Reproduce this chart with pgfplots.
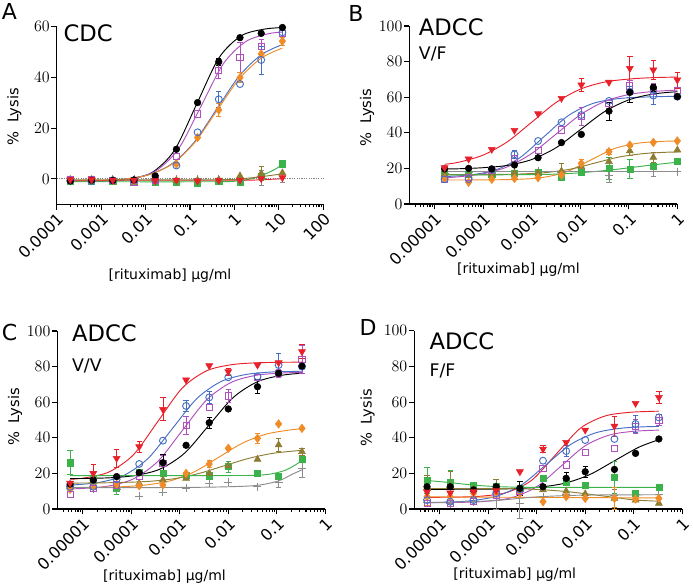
\documentclass[border=0pt]{standalone}
\usepackage{pgfplots}
\usepackage{pgfplotstable}
\pgfplotsset{compat=1.18}
\usepackage{fontspec}
\setmainfont{DejaVu Sans}
\definecolor{cblue}{RGB}{70,110,195}
\definecolor{cmag}{RGB}{175,80,190}
\definecolor{cred}{RGB}{232,32,42}
\definecolor{corange}{RGB}{240,140,40}
\definecolor{colive}{RGB}{140,125,50}
\definecolor{cgreen}{RGB}{60,178,75}
\definecolor{cgrey}{RGB}{140,140,140}

\pgfplotstableread{
x k b m r o v g y
0.000203 -0.8 -0.6 -0.3 -0.3 -0.3 -0.2 -1.0 0
0.00061 -0.5 -0.9 -0.3 -0.3 -0.3 -0.2 -1.0 0
0.00183 -0.6 -0.5 -0.5 -0.5 -0.5 -0.4 -1.0 0
0.00549 -0.4 -0.5 -1.5 -0.5 -0.8 -0.5 -1.0 0
0.0165 1.2 -0.3 -0.5 -0.7 -0.5 -0.5 -1.2 0
0.0494 11.7 5.3 8.8 -0.5 5.9 -0.5 -1.2 0
0.148 30.1 18.4 25.6 -0.8 16.3 -0.5 -1.5 0
0.444 46.2 31.4 42.6 -0.5 27.2 -0.3 -1.0 0
1.333 55.7 37.4 48.0 -0.5 39.9 1.2 -1.2 0
4 57.4 46.9 52.1 0.1 49.3 2.2 1.0 0.5
12 59.7 57.8 57.5 0.5 54.3 2.4 6.0 0.3
}\dataA

\pgfplotstableread{
x k b m r o v g y
1.6e-5 19.7 13.9 13.9 20.4 14.4 16.5 16.7 17.0
5e-5 20.0 14.0 14.8 25.3 12.2 16.0 16.7 17.5
1.5e-4 19.7 19.5 19.0 30.7 13.9 17.0 16.7 18.0
4.4e-4 21.9 27.9 25.7 41.4 14.4 17.5 17.2 18.0
1.35e-3 26.0 35.4 30.3 50.7 14.8 17.5 17.8 18.5
4.1e-3 34.5 45.9 41.6 59.4 16.3 18.5 15.0 17.5
0.0105 39.1 50.0 49.1 66.9 22.8 21.0 17.8 18.0
0.039 52.2 57.9 56.6 68.4 29.4 23.8 20.0 16.0
0.105 62.7 63.1 66.3 76.2 33.1 29.8 19.7 18.2
0.32 65.4 60.9 64.5 75.3 34.6 26.2 21.0 18.5
1 60.3 60.3 63.7 69.7 35.4 30.3 23.8 18.2
}\dataB

\pgfplotstableread{
x k b m r o v g y
5.5e-6 14.0 12.5 8.0 14.5 11.0 12.5 26.0 13.0
1.65e-5 16.3 12.5 11.6 20.0 13.1 15.4 17.0 11.5
5e-5 18.2 16.7 13.5 28.5 13.9 12.5 11.6 10.7
1.46e-4 20.4 25.3 18.2 35.0 13.1 14.4 20.4 7.3
4.5e-4 26.0 38.4 25.7 56.0 13.5 16.3 20.0 9.4
1.35e-3 35.8 57.9 46.8 72.5 20.0 17.2 19.1 11.6
4.05e-3 48.5 62.7 56.9 80.5 25.3 20.0 18.7 14.4
0.01 56.2 74.0 63.5 77.2 34.1 24.3 23.8 15.0
0.04 68.7 74.5 74.0 80.9 39.7 27.9 20.0 12.5
0.109 76.2 80.9 76.2 82.2 47.8 36.0 18.5 14.8
0.33 80.3 80.0 84.1 88.4 45.3 32.2 28.1 22.8
}\dataC

\pgfplotstableread{
x k b m r o v g y
5.5e-6 12.5 5.0 3.2 9.5 6.9 12.0 16.0 3.5
1.65e-5 12.5 4.1 3.2 9.0 7.0 13.1 15.0 3.0
5e-5 10.7 5.0 4.1 9.7 8.8 11.0 13.5 4.0
1.46e-4 12.5 8.8 7.9 10.3 9.7 12.5 12.5 5.0
4.5e-4 11.6 11.0 9.7 20.9 8.8 10.7 11.6 3.0
1.35e-3 12.5 27.1 22.5 33.6 4.1 10.7 17.2 7.0
4.05e-3 17.2 32.5 24.7 37.4 6.9 10.0 15.3 8.0
0.01 20.9 38.7 31.8 44.3 6.0 8.5 13.5 7.5
0.04 22.2 39.3 34.0 46.5 6.0 6.0 17.8 7.5
0.109 31.2 47.7 46.5 59.3 5.6 5.0 8.8 8.0
0.33 39.3 51.4 49.9 62.6 6.0 3.2 12.1 8.0
}\dataD

\pgfplotsset{
  every axis/.append style={
    scale only axis, clip=false,
    axis x line*=bottom, axis y line*=left,
    axis line style={line width=0.8pt},
    tick align=outside, tick style={line width=0.8pt, black},
    major tick length=4pt, minor tick length=2.3pt,
    tick label style={font=\fontsize{12}{12}\selectfont},
    yticklabel style={inner sep=1pt},
    xticklabel style={rotate=45, anchor=north east, inner sep=1pt},
  },
  mk/.style={only marks, mark=*, mark size=2.5pt, black},
  mb/.style={only marks, mark=o, mark size=2.6pt, cblue, mark options={line width=0.7pt}},
  mm/.style={only marks, mark=square, mark size=2.3pt, cmag, mark options={line width=0.7pt}},
  mr/.style={only marks, mark=triangle*, mark size=3pt, cred, mark options={rotate=180}},
  mo/.style={only marks, mark=diamond*, mark size=3.2pt, corange},
  mv/.style={only marks, mark=triangle*, mark size=3pt, colive},
  mg/.style={only marks, mark=square*, mark size=2.3pt, cgreen},
  mgr/.style={only marks, mark=+, mark size=3pt, cgrey, mark options={line width=0.7pt}},
  mycv/.style={no markers, smooth, line width=0.7pt, #1},
  myeb/.style={draw=none, no markers, forget plot, error bars/.cd, y dir=both, y explicit,
    error bar style={draw=#1, line width=0.6pt, solid},
    error mark options={rotate=90, mark size=2pt, line width=0.6pt, draw=#1}},
}
\tikzset{
  myttl/.style={anchor=base west, font=\fontsize{17}{17}\selectfont, inner sep=0pt},
  mysub/.style={anchor=base west, font=\fontsize{13}{13}\selectfont, inner sep=0pt},
  myylab/.style={rotate=90, font=\fontsize{11}{11}\selectfont},
  myxlab/.style={font=\fontsize{10.5}{10.5}\selectfont},
  myletter/.style={anchor=base west, inner sep=0pt, font=\fontsize{16.5}{16.5}\selectfont},
}

\newcommand{\points}[1]{%
  \addplot[mgr] table[x=x,y=y]{#1};
  \addplot[mg] table[x=x,y=g]{#1};
  \addplot[mv] table[x=x,y=v]{#1};
  \addplot[mo] table[x=x,y=o]{#1};
  \addplot[mm] table[x=x,y=m]{#1};
  \addplot[mb] table[x=x,y=b]{#1};
  \addplot[mk] table[x=x,y=k]{#1};
  \addplot[mr] table[x=x,y=r]{#1};
}

\begin{document}
\begin{tikzpicture}
\path[use as bounding box] (0,0) rectangle (519.75pt,440.25pt);

% ---------------- A ----------------
\begin{axis}[xmode=log, at={(42.5pt,287pt)}, anchor=south west, width=200pt, height=133.2pt,
  xmin=1e-4, xmax=100, ymin=-10, ymax=60, ytick={0,20,40,60},
  xtick={1e-4,1e-3,1e-2,1e-1,1,10,100},
  xticklabels={0.0001,0.001,0.01,0.1,1,10,100},
  minor xtick={2e-4,3e-4,4e-4,5e-4,6e-4,7e-4,8e-4,9e-4,2e-3,3e-3,4e-3,5e-3,6e-3,7e-3,8e-3,9e-3,0.02,0.03,0.04,0.05,0.06,0.07,0.08,0.09,0.2,0.3,0.4,0.5,0.6,0.7,0.8,0.9,2,3,4,5,6,7,8,9,20,30,40,50,60,70,80,90}]
\addplot[gray, densely dotted, line width=0.8pt] coordinates {(1e-4,0) (100,0)};
\addplot[mycv=black] coordinates {(0.0002,-1.0) (0.000447,-0.94) (0.001413,-0.76) (0.004467,0.0) (0.01413,2.6) (0.04467,11.3) (0.1413,29.5) (0.4467,47.7) (1.413,56.4) (4.467,59.0) (12,59.7)};
\addplot[mycv=cmag] coordinates {(0.0002,-1.0) (0.0005623,-0.9) (0.001778,-0.64) (0.005623,0.31) (0.01778,3.4) (0.05623,12.1) (0.1778,28.75) (0.5623,45.4) (1.778,54.1) (5.623,57.2) (12,57.9)};
\addplot[mycv=cblue] coordinates {(0.0002,-0.9) (0.000398,-0.84) (0.001259,-0.58) (0.00398,0.14) (0.01259,1.85) (0.0398,6.07) (0.1259,14.6) (0.398,27.5) (1.259,40.4) (3.98,48.9) (12,53.0)};
\addplot[mycv=corange] coordinates {(0.0002,-0.91) (0.000398,-0.85) (0.001259,-0.59) (0.00398,0.11) (0.01259,1.78) (0.0398,5.9) (0.1259,14.2) (0.398,26.75) (1.259,39.3) (3.98,47.6) (12,51.6)};
\addplot[mycv=cgreen] coordinates {(0.0002,-1.1) (0.3,-1.1) (1,-0.9) (2,-0.2) (4,1.3) (8,3.7) (12,5.8)};
\addplot[mycv=cred] coordinates {(0.0002,-0.5) (1,-0.5) (4,-0.3) (12,0.1)};
\addplot[mycv=colive] coordinates {(0.0002,-0.3) (0.5,-0.3) (2,0.3) (12,2.0)};
\addplot[myeb=black] coordinates {(0.444,46.2) +- (0,1.5)};
\addplot[myeb=cmag] coordinates {(0.444,42.6) +- (0,3) (1.333,48.0) +- (0,6) (4,52.1) +- (0,3)};
\addplot[myeb=cblue] coordinates {(0.444,31.4) +- (0,3) (4,46.9) +- (0,5.5) (12,57.8) +- (0,2)};
\addplot[myeb=corange] coordinates {(0.444,27.2) +- (0,2.5) (1.333,39.9) +- (0,2) (12,54.3) +- (0,1.5)};
\addplot[myeb=colive] coordinates {(4,2.2) +- (0,2.8)};
\addplot[myeb=cgrey] coordinates {(4,0.5) +- (0,3) (12,0.3) +- (0,1.5)};
\points{\dataA}
\node[myttl] at (rel axis cs:0.025,0.9155) {CDC};
\node[myylab] at (rel axis cs:-0.159,0.493) {\%\hspace{0.6em}Lysis};
\node[myxlab] at (rel axis cs:0.425,-0.40) {[rituximab] µg/ml};
\end{axis}

% ---------------- B ----------------
\begin{axis}[xmode=log, at={(307pt,287.25pt)}, anchor=south west, width=201pt, height=133.5pt,
  xmin=3e-6, xmax=1, ymin=0, ymax=100, ytick={0,20,40,60,80,100},
  xtick={1e-5,1e-4,1e-3,1e-2,1e-1,1},
  xticklabels={0.00001,0.0001,0.001,0.01,0.1,1},
  minor xtick={4e-6,5e-6,6e-6,7e-6,8e-6,9e-6,2e-5,3e-5,4e-5,5e-5,6e-5,7e-5,8e-5,9e-5,2e-4,3e-4,4e-4,5e-4,6e-4,7e-4,8e-4,9e-4,2e-3,3e-3,4e-3,5e-3,6e-3,7e-3,8e-3,9e-3,0.02,0.03,0.04,0.05,0.06,0.07,0.08,0.09,0.2,0.3,0.4,0.5,0.6,0.7,0.8,0.9}]
\addplot[mycv=cred] coordinates {(1.6e-5,22.3) (3.162e-5,23.5) (1e-4,27.5) (3.162e-4,35.0) (1e-3,46.0) (3.162e-3,57.0) (0.01,64.5) (0.03162,68.5) (0.1,70.2) (0.3162,71.0) (1,71.3)};
\addplot[mycv=cblue] coordinates {(1.6e-5,15.4) (5.623e-5,16.4) (1.778e-4,19.1) (5.623e-4,25.9) (1.778e-3,37.75) (5.623e-3,49.6) (0.01778,56.4) (0.05623,59.1) (0.1778,60.0) (0.5623,60.4) (1,60.4)};
\addplot[mycv=cmag] coordinates {(1.6e-5,14.7) (3.162e-5,15.3) (1e-4,17.0) (3.162e-4,20.9) (1e-3,28.4) (3.162e-3,39.25) (0.01,50.1) (0.03162,57.6) (0.1,61.5) (0.3162,63.2) (1,64.0)};
\addplot[mycv=black] coordinates {(1.6e-5,19.7) (3.162e-5,19.8) (1e-4,20.4) (3.162e-4,21.7) (1e-3,25.0) (3.162e-3,31.6) (0.01,41.75) (0.03162,51.9) (0.1,58.5) (0.3162,61.8) (1,63.1)};
\addplot[mycv=corange] coordinates {(1.6e-5,13.5) (5.012e-5,13.5) (1.585e-4,13.6) (5.012e-4,13.85) (1.585e-3,14.8) (5.012e-3,17.9) (0.01585,24.5) (0.05012,31.1) (0.1585,34.2) (0.5012,35.2) (1,35.35)};
\addplot[mycv=colive] coordinates {(1.6e-5,16.5) (6.31e-5,16.5) (1.995e-4,16.6) (6.31e-4,16.9) (1.995e-3,17.7) (6.31e-3,19.6) (0.01995,23.0) (0.0631,26.4) (0.1995,28.3) (0.631,29.1) (1,29.2)};
\addplot[mycv=cgreen] coordinates {(1.6e-5,16.3) (1e-3,16.5) (0.004,16.9) (0.0105,17.6) (0.039,19.0) (0.105,20.4) (0.32,22.0) (1,23.5)};
\addplot[mycv=cgrey] coordinates {(1.6e-5,18.3) (1,18.3)};
\addplot[myeb=cred] coordinates {(0.0105,66.9) +- (0,3.5) (0.105,76.2) +- (0,6.5) (0.32,75.3) +- (0,5.5) (1,69.7) +- (0,4.5)};
\addplot[myeb=black] coordinates {(0.039,52.2) +- (0,5) (0.105,62.7) +- (0,5.5) (0.32,65.4) +- (0,2)};
\addplot[myeb=cmag] coordinates {(0.0105,49.1) +- (0,5) (0.105,66.3) +- (0,3) (0.32,64.5) +- (0,3)};
\addplot[myeb=cblue] coordinates {(0.105,63.1) +- (0,3) (0.32,60.9) +- (0,5) (4.4e-4,27.9) +- (0,2)};
\addplot[myeb=colive] coordinates {(0.0041,18.5) +- (0,4.3) (0.32,26.2) +- (0,3) (0.105,29.8) +- (0,2.5)};
\addplot[myeb=cgreen] coordinates {(0.039,20.0) +- (0,6) (0.105,19.7) +- (0,5.5)};
\addplot[myeb=cgrey] coordinates {(0.039,16.0) +- (0,4) (0.32,18.5) +- (0,3)};
\addplot[myeb=corange] coordinates {(0.0105,22.8) +- (0,2) (0.039,29.4) +- (0,1.5)};
\points{\dataB}
\node[myttl] at (rel axis cs:0.035,0.949) {ADCC};
\node[mysub] at (rel axis cs:0.035,0.813) {V/F};
\node[myylab] at (rel axis cs:-0.158,0.486) {\%\hspace{0.6em}Lysis};
\node[myxlab] at (rel axis cs:0.407,-0.37) {[rituximab] µg/ml};
\end{axis}

% ---------------- C ----------------
\begin{axis}[xmode=log, at={(43pt,58.5pt)}, anchor=south west, width=201pt, height=133.5pt,
  xmin=3e-6, xmax=1, ymin=0, ymax=100, ytick={0,20,40,60,80,100},
  xtick={1e-5,1e-4,1e-3,1e-2,1e-1,1},
  xticklabels={0.00001,0.0001,0.001,0.01,0.1,1},
  minor xtick={4e-6,5e-6,6e-6,7e-6,8e-6,9e-6,2e-5,3e-5,4e-5,5e-5,6e-5,7e-5,8e-5,9e-5,2e-4,3e-4,4e-4,5e-4,6e-4,7e-4,8e-4,9e-4,2e-3,3e-3,4e-3,5e-3,6e-3,7e-3,8e-3,9e-3,0.02,0.03,0.04,0.05,0.06,0.07,0.08,0.09,0.2,0.3,0.4,0.5,0.6,0.7,0.8,0.9}]
\addplot[mycv=cred] coordinates {(5.5e-6,16.7) (1.122e-5,17.5) (3.548e-5,20.9) (1.122e-4,30.6) (3.548e-4,49.25) (1.122e-3,67.9) (3.548e-3,77.6) (0.01122,81.0) (0.03548,82.1) (0.1122,82.4) (0.33,82.5)};
\addplot[mycv=cblue] coordinates {(5.5e-6,13.5) (7.079e-6,13.6) (2.239e-5,15.0) (7.079e-5,18.9) (2.239e-4,28.5) (7.079e-4,45.25) (2.239e-3,62.0) (7.079e-3,71.6) (0.02239,75.5) (0.07079,76.9) (0.2239,77.3) (0.33,77.4)};
\addplot[mycv=cmag] coordinates {(5.5e-6,11.3) (1.122e-5,11.65) (3.548e-5,13.0) (1.122e-4,17.0) (3.548e-4,26.8) (1.122e-3,44.0) (3.548e-3,61.2) (0.01122,71.0) (0.03548,75.0) (0.1122,76.3) (0.33,76.8)};
\addplot[mycv=black] coordinates {(5.5e-6,17.1) (1.259e-5,17.2) (3.981e-5,17.6) (1.259e-4,18.9) (3.981e-4,22.5) (1.259e-3,31.4) (3.981e-3,47.0) (0.01259,62.6) (0.03981,71.5) (0.1259,75.1) (0.33,76.3)};
\addplot[mycv=corange] coordinates {(5.5e-6,12.05) (1.995e-5,12.2) (6.31e-5,12.5) (1.995e-4,13.5) (6.31e-4,15.8) (1.995e-3,20.9) (6.31e-3,29.0) (0.01995,37.1) (0.0631,42.2) (0.1995,44.5) (0.33,45.1)};
\addplot[mycv=colive] coordinates {(5.5e-6,14.56) (2.512e-5,14.7) (7.943e-5,15.0) (2.512e-4,15.6) (7.943e-4,17.1) (2.512e-3,20.0) (7.943e-3,24.15) (0.02512,28.3) (0.07943,31.2) (0.2512,32.7) (0.33,32.9)};
\addplot[mycv=cgreen] coordinates {(5.5e-6,18.8) (0.01,18.8) (0.04,19.0) (0.08,19.8) (0.15,21.8) (0.25,25.0) (0.33,27.3)};
\addplot[mycv=cgrey] coordinates {(5.5e-6,12.0) (0.001,12.1) (0.01,12.5) (0.04,13.3) (0.109,15.8) (0.2,19.3) (0.33,22.0)};
\addplot[myeb=cgreen] coordinates {(5.5e-6,26.0) +- (0,6.8) (1.65e-5,17.0) +- (0,4) (5e-5,11.6) +- (0,3.5) (0.01,23.8) +- (0,3)};
\addplot[myeb=cred] coordinates {(1.65e-5,20.0) +- (0,5) (5e-5,28.5) +- (0,5) (1.46e-4,35.0) +- (0,3) (4.5e-4,56.0) +- (0,6.5) (0.33,88.4) +- (0,4) (0.01,77.2) +- (0,2)};
\addplot[myeb=cmag] coordinates {(4.5e-4,25.7) +- (0,4.5) (1.35e-3,46.8) +- (0,5) (0.01,63.5) +- (0,3.5) (0.33,84.1) +- (0,8) (0.109,76.2) +- (0,2)};
\addplot[myeb=cblue] coordinates {(1.35e-3,57.9) +- (0,3) (4.05e-3,62.7) +- (0,3.5) (0.109,80.9) +- (0,6.5)};
\addplot[myeb=black] coordinates {(4.05e-3,48.5) +- (0,3) (0.04,68.7) +- (0,4) (4.5e-4,26.0) +- (0,4.5)};
\addplot[myeb=corange] coordinates {(0.04,39.7) +- (0,3) (4.05e-3,25.3) +- (0,2)};
\addplot[myeb=colive] coordinates {(0.109,36.0) +- (0,3.5) (0.33,32.2) +- (0,2)};
\addplot[myeb=cgrey] coordinates {(0.109,14.8) +- (0,2.5) (0.33,22.8) +- (0,5)};
\points{\dataC}
\node[myttl] at (rel axis cs:0.054,0.94) {ADCC};
\node[mysub] at (rel axis cs:0.054,0.771) {V/V};
\node[myylab] at (rel axis cs:-0.158,0.517) {\%\hspace{0.6em}Lysis};
\node[myxlab] at (rel axis cs:0.40,-0.38) {[rituximab] µg/ml};
\end{axis}

% ---------------- D ----------------
\begin{axis}[xmode=log, at={(310.7pt,58.5pt)}, anchor=south west, width=201pt, height=133.7pt,
  xmin=3e-6, xmax=1, ymin=0, ymax=100, ytick={0,20,40,60,80,100},
  xtick={1e-5,1e-4,1e-3,1e-2,1e-1,1},
  xticklabels={0.00001,0.0001,0.001,0.01,0.1,1},
  minor xtick={4e-6,5e-6,6e-6,7e-6,8e-6,9e-6,2e-5,3e-5,4e-5,5e-5,6e-5,7e-5,8e-5,9e-5,2e-4,3e-4,4e-4,5e-4,6e-4,7e-4,8e-4,9e-4,2e-3,3e-3,4e-3,5e-3,6e-3,7e-3,8e-3,9e-3,0.02,0.03,0.04,0.05,0.06,0.07,0.08,0.09,0.2,0.3,0.4,0.5,0.6,0.7,0.8,0.9}]
\addplot[mycv=cred] coordinates {(5.5e-6,6.53) (2.512e-5,6.7) (7.943e-5,7.3) (2.512e-4,9.4) (7.943e-4,16.2) (2.512e-3,30.75) (7.943e-3,45.3) (0.02512,52.1) (0.07943,54.2) (0.2512,54.8) (0.33,54.85)};
\addplot[mycv=cblue] coordinates {(5.5e-6,3.65) (1.585e-5,3.9) (5.012e-5,4.8) (1.585e-4,7.4) (5.012e-4,13.8) (1.585e-3,25.0) (5.012e-3,36.2) (0.01585,42.6) (0.05012,45.2) (0.1585,46.1) (0.33,46.3)};
\addplot[mycv=cmag] coordinates {(5.5e-6,3.54) (3.162e-5,3.76) (1e-4,4.4) (3.162e-4,6.5) (1e-3,12.5) (3.162e-3,24.0) (0.01,35.5) (0.03162,41.5) (0.1,43.6) (0.33,44.25)};
\addplot[mycv=black] coordinates {(5.5e-6,11.0) (3.981e-5,11.1) (1.259e-4,11.2) (3.981e-4,11.5) (1.259e-3,12.4) (3.981e-3,14.6) (0.01259,19.4) (0.03981,27.0) (0.1259,34.6) (0.33,38.9)};
\addplot[mycv=cgreen] coordinates {(5.5e-6,16.0) (1.65e-5,14.8) (5e-5,13.4) (1.46e-4,12.6) (4.5e-4,12.2) (1.35e-3,12.1) (0.33,12.1)};
\addplot[mycv=colive] coordinates {(5.5e-6,11.5) (1e-4,11.5) (5e-4,11.3) (1.35e-3,10.8) (4.05e-3,9.8) (0.01,8.6) (0.04,6.5) (0.109,5.0) (0.33,4.4)};
\addplot[mycv=corange] coordinates {(5.5e-6,6.8) (0.33,6.2)};
\addplot[mycv=cgrey] coordinates {(5.5e-6,3.5) (1e-4,4.5) (4.5e-4,6.0) (1.35e-3,7.0) (0.01,7.8) (0.33,8.0)};
\addplot[myeb=cgreen] coordinates {(5.5e-6,16.0) +- (0,7.5) (1.65e-5,15.0) +- (0,6.5) (0.04,17.8) +- (0,9)};
\addplot[myeb=colive] coordinates {(5.5e-6,12.0) +- (0,7) (1.65e-5,13.1) +- (0,8) (1.46e-4,12.5) +- (0,4) (0.04,6.0) +- (0,5)};
\addplot[myeb=black] coordinates {(4.5e-4,11.6) +- (0,4) (0.01,20.9) +- (0,3) (4.05e-3,17.2) +- (0,3.5)};
\addplot[myeb=cred] coordinates {(0.04,46.5) +- (0,5.5) (0.33,62.6) +- (0,3.5) (1.35e-3,33.6) +- (0,2)};
\addplot[myeb=corange] coordinates {(0.04,6.0) +- (0,6) (5.5e-6,6.9) +- (0,5)};
\addplot[myeb=cgrey] coordinates {(4.5e-4,3.0) +- (0,8) (1.46e-4,5.0) +- (0,5)};
\addplot[myeb=cmag] coordinates {(0.109,46.5) +- (0,4) (0.33,49.9) +- (0,3)};
\addplot[myeb=cblue] coordinates {(0.109,47.7) +- (0,5) (4.05e-3,32.5) +- (0,3)};
\points{\dataD}
\node[myttl] at (rel axis cs:0.056,0.892) {ADCC};
\node[mysub] at (rel axis cs:0.056,0.742) {F/F};
\node[myylab] at (rel axis cs:-0.174,0.51) {\%\hspace{0.6em}Lysis};
\node[myxlab] at (rel axis cs:0.375,-0.37) {[rituximab] µg/ml};
\end{axis}

\node[myletter] at (1.3pt,425.25pt) {A};
\node[myletter] at (261pt,424pt) {B};
\node[myletter] at (1.3pt,185.25pt) {C};
\node[myletter] at (269.5pt,189pt) {D};
\end{tikzpicture}
\end{document}
